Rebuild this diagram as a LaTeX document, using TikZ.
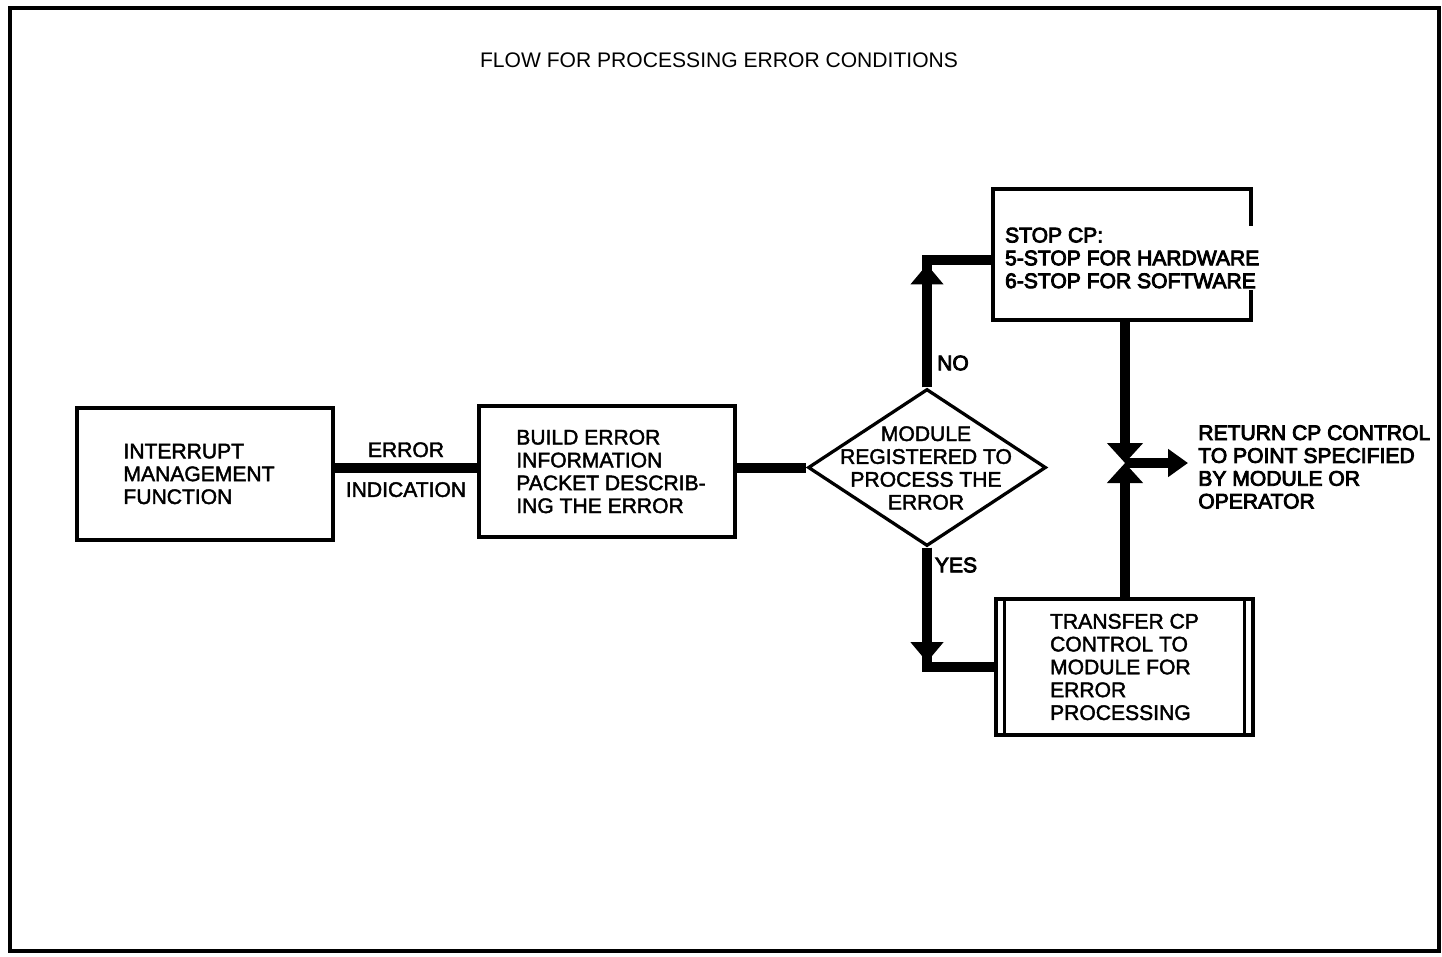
\documentclass[tikz,border=0pt]{standalone}
\usepackage{fontspec}
\setmainfont{Liberation Sans}
\newfontfamily\medfont[FakeBold=2]{Liberation Sans}
\newfontfamily\heavyfont[FakeBold=4]{Liberation Sans}
\usetikzlibrary{arrows.meta,shapes.geometric,calc}
\begin{document}
\begin{tikzpicture}[x=0.02cm,y=-0.02cm,
  font=\medfont\fontsize{12}{13}\selectfont,
  box/.style={draw,line width=0.065cm,inner sep=0pt,align=left},
  txt/.style={inner sep=0pt},
  conn/.style={line width=0.2cm},
  tipA/.style={-{Triangle[width=0.64cm,length=0.4cm]}},
  tipB/.style={-{Triangle[width=0.7cm,length=0.4cm]}},
  tipC/.style={-{Triangle[width=0.54cm,length=0.4cm]}}]
\useasboundingbox (0,0) rectangle (1442,956);
\draw[line width=0.07cm] (10,8) rectangle (1439,951);

\node[txt,font=\rmfamily\fontsize{12}{13}\selectfont] (title) at (719,60) {FLOW FOR PROCESSING ERROR CONDITIONS};

\node[box,minimum width=5.12cm,minimum height=2.64cm] (b1) at (205,474)
  {INTERRUPT\\MANAGEMENT\hspace*{0.24cm}\mbox{}\\FUNCTION};
\node[box,minimum width=5.12cm,minimum height=2.62cm] (b2) at (607,471.5)
  {\hspace*{0.16cm}BUILD ERROR\\\hspace*{0.16cm}INFORMATION\\\hspace*{0.16cm}PACKET DESCRIB-\\\hspace*{0.16cm}ING THE ERROR};
\node[draw,diamond,line width=0.065cm,minimum width=4.76cm,minimum height=3.14cm,inner sep=0pt] (d) at (927,467.5) {};
\node[txt,align=center] (dt) at (926,468) {MODULE\\REGISTERED TO\\PROCESS THE\\ERROR};

\node[box,minimum width=5.16cm,minimum height=2.62cm] (stop) at (1122,254.5) {};
\node[txt,align=left,fill=white,inner sep=1pt,anchor=west,font=\heavyfont\fontsize{12}{13}\selectfont] (st) at (1003,258)
  {STOP CP:\\5-STOP FOR HARDWARE\\6-STOP FOR SOFTWARE};

\node[box,minimum width=5.14cm,minimum height=2.72cm] (xfer) at (1124.5,667)
  {TRANSFER CP\\CONTROL TO\\MODULE FOR\\ERROR\\PROCESSING};
\draw[line width=0.05cm] ($(xfer.north west)+(10,0)$) -- ($(xfer.south west)+(10,0)$);
\draw[line width=0.05cm] ($(xfer.north east)+(-10,0)$) -- ($(xfer.south east)+(-10,0)$);

\node[txt,anchor=west,align=left,font=\heavyfont\fontsize{12}{13}\selectfont] (rt) at (1198,467)
  {RETURN CP CONTROL\\TO POINT SPECIFIED\\BY MODULE OR\\OPERATOR};

% connectors
\draw[conn] (b1.east |- d.west) -- node[above=3pt,txt]{ERROR} node[below=5.5pt,txt]{INDICATION} (b2.west |- d.west);
\draw[conn] (b2.east |- d.west) -- (d.west);

\coordinate (nj) at ($(stop.west)+(0,5)$);
\draw[conn] (d.north) |- (nj);
\draw[conn,tipA] (d.north) -- ($(d.north |- nj)+(0,5)$);
\node[txt,font=\heavyfont\fontsize{12}{13}\selectfont] (no) at (953,363) {NO};

\draw[conn] (d.south) |- (xfer.west);
\draw[conn,tipA] (d.south) -- ($(d.south |- xfer.west)+(0,-5)$);
\node[txt,font=\heavyfont\fontsize{12}{13}\selectfont] (yes) at (956,565) {YES};

\coordinate (j) at (1125,463);
\coordinate (ret) at (1188,463);
\draw[conn,tipB] (stop.south -| j) -- (j);
\draw[conn,tipB] (xfer.north -| j) -- (j);
\draw[conn,tipC] (j) -- (ret);
\end{tikzpicture}
\end{document}
